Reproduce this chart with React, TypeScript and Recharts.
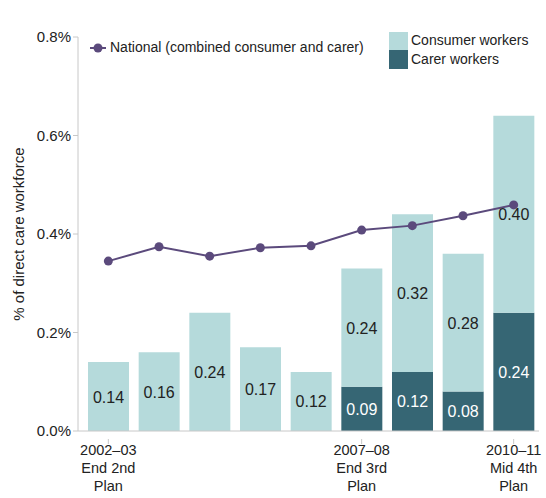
import React from "react";
import {
  ComposedChart,
  Bar,
  Line,
  XAxis,
  YAxis,
  LabelList,
} from "recharts";

const categories = [
  "2002–03",
  "2003–04",
  "2004–05",
  "2005–06",
  "2006–07",
  "2007–08",
  "2008–09",
  "2009–10",
  "2010–11",
];
const consumerWorkers = [0.14, 0.16, 0.24, 0.17, 0.12, 0.24, 0.32, 0.28, 0.4];
const carerWorkers = [0, 0, 0, 0, 0, 0.09, 0.12, 0.08, 0.24];
const national = [0.345, 0.374, 0.355, 0.372, 0.376, 0.408, 0.417, 0.437, 0.459];
const yTicks = [0, 0.2, 0.4, 0.6, 0.8];
const tickLabels: Record<string, string[]> = {
  "2002–03": ["2002–03", "End 2nd", "Plan"],
  "2007–08": ["2007–08", "End 3rd", "Plan"],
  "2010–11": ["2010–11", "Mid 4th", "Plan"],
};

const data = categories.map((c, i) => ({
  year: c,
  consumer: consumerWorkers[i],
  carer: carerWorkers[i],
  national: national[i],
}));

const FONT = "'Liberation Sans Narrow', 'Liberation Sans', Arial, sans-serif";
const LIGHT = "#b5dadb";
const DARK = "#366674";
const PURPLE = "#5b4a7c";

const XTick = (props: any) => {
  const { x, y, payload } = props;
  const lines = tickLabels[payload.value];
  if (!lines) return null;
  return (
    <g>
      <line x1={x} x2={x} y1={y} y2={y + 5} stroke="#c8c8c8" />
      <text x={x} y={y} textAnchor="middle" fontSize={14.5} fill="#222" fontFamily={FONT}>
        {lines.map((l, i) => (
          <tspan key={i} x={x} dy={i === 0 ? 16 : 18}>
            {l}
          </tspan>
        ))}
      </text>
    </g>
  );
};

const segLabel = (color: string) => (props: any) => {
  const { x, y, width, height, value } = props;
  if (!value) return null;
  return (
    <text
      x={x + width / 2}
      y={y + height / 2 + 6}
      textAnchor="middle"
      fontSize={16}
      fill={color}
      fontFamily={FONT}
    >
      {value.toFixed(2)}
    </text>
  );
};

const LegendBox = () => (
  <div style={{ position: "relative", width: 546, height: 0, fontFamily: FONT, fontSize: 14, color: "#222" }}>
    <svg style={{ position: "absolute", left: 90, top: 42 }} width={16} height={12}>
      <line x1={0} x2={16} y1={6} y2={6} stroke={PURPLE} strokeWidth={2} />
      <circle cx={8} cy={6} r={4.5} fill={PURPLE} />
    </svg>
    <div style={{ position: "absolute", left: 110, top: 39, whiteSpace: "nowrap" }}>
      National (combined consumer and carer)
    </div>
    <div style={{ position: "absolute", left: 389, top: 32, width: 19, height: 18, background: LIGHT }} />
    <div style={{ position: "absolute", left: 389, top: 50, width: 19, height: 19, background: DARK }} />
    <div style={{ position: "absolute", left: 411, top: 32, whiteSpace: "nowrap" }}>Consumer workers</div>
    <div style={{ position: "absolute", left: 411, top: 51, whiteSpace: "nowrap" }}>Carer workers</div>
  </div>
);

export default function App() {
  return (
    <div style={{ position: "absolute", left: 0, top: 0, width: 546, height: 498, background: "#fff" }}>
      <LegendBox />
      <ComposedChart
        width={546}
        height={498}
        data={data}
        margin={{ top: 37, right: 7, bottom: 0, left: 0 }}
        barCategoryGap={0}
        style={{ fontFamily: FONT }}
      >
        <XAxis
          dataKey="year"
          interval={0}
          tick={<XTick />}
          tickLine={false}
          axisLine={{ stroke: "#c8c8c8" }}
          padding={{ left: 5, right: 0 }}
          height={67}
        />
        <YAxis
          domain={[0, 0.8]}
          ticks={yTicks}
          tickFormatter={(v: number) => `${v.toFixed(1)}%`}
          width={78}
          axisLine={{ stroke: "#c8c8c8" }}
          tickLine={{ stroke: "#c8c8c8" }}
          tickSize={5}
          tick={{ fontSize: 15, fill: "#222", fontFamily: FONT }}
          label={{
            value: "% of direct care workforce",
            angle: -90,
            position: "insideLeft",
            offset: 19,
            style: { textAnchor: "middle", fontSize: 15, fill: "#222", fontFamily: FONT },
          }}
        />
        <Bar dataKey="carer" stackId="a" fill={DARK} barSize={41} isAnimationActive={false}>
          <LabelList dataKey="carer" content={segLabel("#ffffff")} />
        </Bar>
        <Bar dataKey="consumer" stackId="a" fill={LIGHT} barSize={41} isAnimationActive={false}>
          <LabelList dataKey="consumer" content={segLabel("#222222")} />
        </Bar>
        <Line
          dataKey="national"
          stroke={PURPLE}
          strokeWidth={2}
          dot={{ r: 4.5, fill: PURPLE, stroke: PURPLE, strokeWidth: 0 }}
          isAnimationActive={false}
        />
      </ComposedChart>
    </div>
  );
}
